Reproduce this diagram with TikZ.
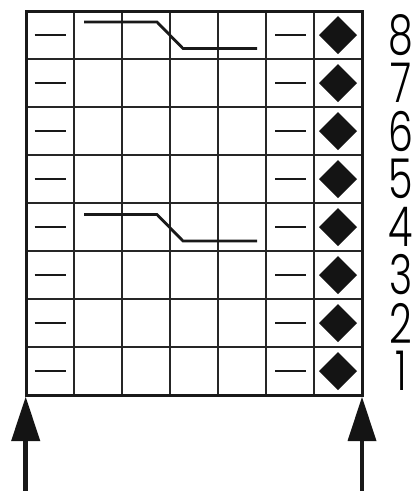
\documentclass[tikz,border=0pt]{standalone}
\usepackage{fontspec}
\newfontfamily\digf{Poppins}[UprightFont={* Light}]
\begin{document}
\begin{tikzpicture}[x=1pt,y=-1pt,
  gridline/.style={line width=1.7pt,draw=black!85},
  frame/.style={line width=3pt,draw=black!90},
  purl/.style={line width=2.8pt,draw=black!90},
  cable/.style={line width=2.8pt,draw=black!90},
  rownum/.style={font=\digf\fontsize{55}{55}\selectfont,inner sep=0pt,xscale=0.72,anchor=center},
  arrowshaft/.style={line width=4.8pt,draw=black!90}]
\useasboundingbox (0,0) rectangle (412,491);
\def\cw{48}\def\ch{48}
% grid lines
\foreach \i in {1,...,6} \draw[gridline] (26+\i*\cw,11) -- (26+\i*\cw,395);
\foreach \j in {1,...,7} \draw[gridline] (26,11+\j*\ch) -- (362,11+\j*\ch);
% purl dashes and diamonds
\foreach \j in {0,...,7} {
  \draw[purl] (34.5,35+\j*\ch) -- (65.5,35+\j*\ch);
  \draw[purl] (275,35+\j*\ch) -- (306,35+\j*\ch);
  \fill[black!92] (338,16+\j*\ch) -- (357,35+\j*\ch) -- (338,54+\j*\ch) -- (319,35+\j*\ch) -- cycle;
}
% cables
\draw[cable,line join=miter] (84,22) -- (157,22) -- (183,48.5) -- (257,48.5);
\draw[cable,line join=miter] (84,214.5) -- (157,214.5) -- (183,241) -- (257,241);
% frame
\draw[frame] (26,11) rectangle (362,395);
% arrows
\coordinate (la) at (25.7,491);
\coordinate (lt) at (25.7,397);
\coordinate (ra) at (362,491);
\coordinate (rt) at (362,397);
\draw[arrowshaft] (la) -- (25.7,438);
\fill[black!92] (lt) -- (40.3,441) -- (11.1,441) -- cycle;
\draw[arrowshaft] (ra) -- (362,438);
\fill[black!92] (rt) -- (376.5,441) -- (347.5,441) -- cycle;
% row numbers
\foreach \n in {1,...,8} \node[rownum] (r\n) at (401,35+\ch*8-\n*\ch) {\n};
\end{tikzpicture}
\end{document}
